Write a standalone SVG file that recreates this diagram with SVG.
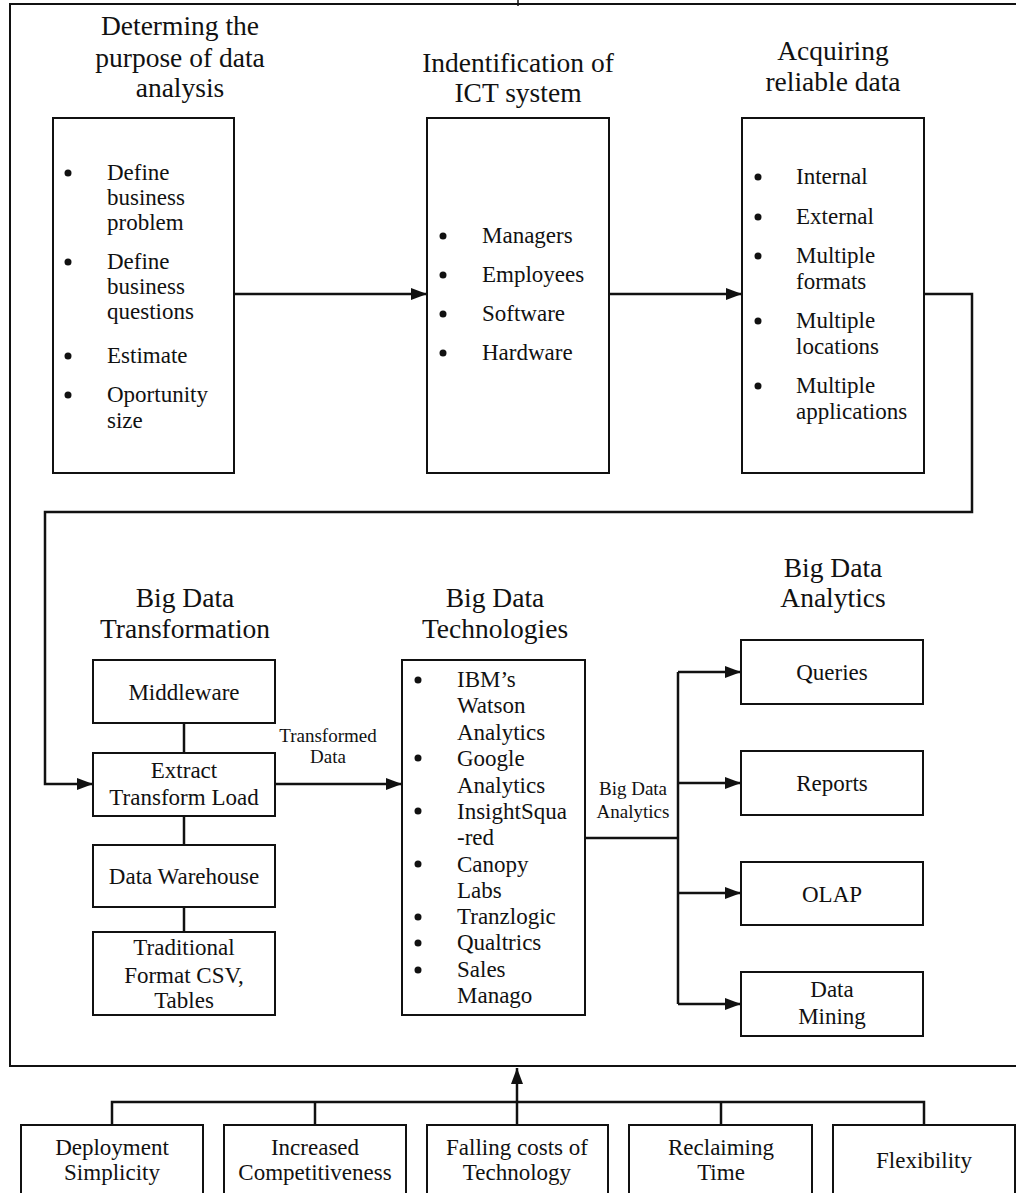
<svg xmlns="http://www.w3.org/2000/svg" width="1016" height="1193" viewBox="0 0 1016 1193">
  <style>
    text { font-family: "Liberation Serif", "Times New Roman", serif; fill: #111; }
    .title { font-size: 27.5px; text-anchor: middle; }
    .item { font-family: "Liberation Serif", "Times New Roman", serif; font-size: 23px; }
    .mid { text-anchor: middle; }
    .lbl { font-size: 19px; text-anchor: middle; }
    .box { fill: #fff; stroke: #111; stroke-width: 2; }
    .wire { fill: none; stroke: #111; stroke-width: 2.5; }
    .dot { fill: #111; }
  </style>
  <defs>
    <marker id="arrow" viewBox="0 0 16 12" refX="16" refY="6" markerWidth="16" markerHeight="12" markerUnits="userSpaceOnUse" orient="auto">
      <path d="M0,0 L16,6 L0,12 Z" fill="#111"/>
    </marker>
  </defs>

  <!-- enclosing frame (open on the right) -->
  <path d="M1016,4 H10 V1066 H1016" fill="none" stroke="#111" stroke-width="2"/>
  <line x1="518" y1="0" x2="518" y2="6" stroke="#111" stroke-width="1.5"/>

  <!-- connectors -->
  <g id="connectors" class="wire">
    <path d="M234,294 H427" marker-end="url(#arrow)"/>
    <path d="M609,294 H742" marker-end="url(#arrow)"/>
    <path d="M924,294 H972 V512 H45 V784 H93" marker-end="url(#arrow)"/>
    <path d="M184,723 V753"/>
    <path d="M184,816 V845"/>
    <path d="M184,907 V932"/>
    <path d="M275,784 H402" marker-end="url(#arrow)"/>
    <path d="M585,838 H678"/>
    <path d="M678,672 V1004"/>
    <path d="M678,672 H741" marker-end="url(#arrow)"/>
    <path d="M678,783 H741" marker-end="url(#arrow)"/>
    <path d="M678,893 H741" marker-end="url(#arrow)"/>
    <path d="M678,1004 H741" marker-end="url(#arrow)"/>
    <path d="M112,1125 V1102 H924 V1125"/>
    <path d="M315,1102 V1125"/>
    <path d="M721,1102 V1125"/>
    <path d="M517,1125 V1068" marker-end="url(#arrow)"/>
    <text x="328" y="742" class="lbl" stroke="none">Transformed</text>
    <text x="328" y="763" class="lbl" stroke="none">Data</text>
    <text x="633" y="795" class="lbl" stroke="none">Big Data</text>
    <text x="633" y="818" class="lbl" stroke="none">Analytics</text>
  </g>

  <!-- stage 1 -->
  <g id="purpose">
    <text x="180" y="35" class="title">Determing the</text>
    <text x="180" y="67" class="title">purpose of data</text>
    <text x="180" y="97" class="title">analysis</text>
    <rect x="53" y="118" width="181" height="355" class="box"/>
    <circle cx="68" cy="173" r="3.5" class="dot"/>
    <text x="107" y="180" class="item">Define</text>
    <text x="107" y="205" class="item">business</text>
    <text x="107" y="230" class="item">problem</text>
    <circle cx="68" cy="262" r="3.5" class="dot"/>
    <text x="107" y="269" class="item">Define</text>
    <text x="107" y="294" class="item">business</text>
    <text x="107" y="319" class="item">questions</text>
    <circle cx="68" cy="356" r="3.5" class="dot"/>
    <text x="107" y="363" class="item">Estimate</text>
    <circle cx="68" cy="395" r="3.5" class="dot"/>
    <text x="107" y="402" class="item">Oportunity</text>
    <text x="107" y="428" class="item">size</text>
  </g>

  <!-- stage 2 -->
  <g id="ict">
    <text x="518" y="72" class="title">Indentification of</text>
    <text x="518" y="102" class="title">ICT system</text>
    <rect x="427" y="118" width="182" height="355" class="box"/>
    <circle cx="443" cy="236" r="3.5" class="dot"/>
    <text x="482" y="243" class="item">Managers</text>
    <circle cx="443" cy="275" r="3.5" class="dot"/>
    <text x="482" y="282" class="item">Employees</text>
    <circle cx="443" cy="314" r="3.5" class="dot"/>
    <text x="482" y="321" class="item">Software</text>
    <circle cx="443" cy="353" r="3.5" class="dot"/>
    <text x="482" y="360" class="item">Hardware</text>
  </g>

  <!-- stage 3 -->
  <g id="acquiring">
    <text x="833" y="60" class="title">Acquiring</text>
    <text x="833" y="91" class="title">reliable data</text>
    <rect x="742" y="118" width="182" height="355" class="box"/>
    <circle cx="758" cy="177" r="3.5" class="dot"/>
    <text x="796" y="184" class="item">Internal</text>
    <circle cx="758" cy="217" r="3.5" class="dot"/>
    <text x="796" y="224" class="item">External</text>
    <circle cx="758" cy="256" r="3.5" class="dot"/>
    <text x="796" y="263" class="item">Multiple</text>
    <text x="796" y="289" class="item">formats</text>
    <circle cx="758" cy="321" r="3.5" class="dot"/>
    <text x="796" y="328" class="item">Multiple</text>
    <text x="796" y="354" class="item">locations</text>
    <circle cx="758" cy="386" r="3.5" class="dot"/>
    <text x="796" y="393" class="item">Multiple</text>
    <text x="796" y="419" class="item">applications</text>
  </g>

  <!-- transformation column -->
  <g id="transformation-title">
    <text x="185" y="607" class="title">Big Data</text>
    <text x="185" y="638" class="title">Transformation</text>
  </g>
  <g id="middleware">
    <rect x="93" y="660" width="182" height="63" class="box"/>
    <text x="184" y="700" class="item mid">Middleware</text>
  </g>
  <g id="etl">
    <rect x="93" y="753" width="182" height="63" class="box"/>
    <text x="184" y="778" class="item mid">Extract</text>
    <text x="184" y="805" class="item mid">Transform Load</text>
  </g>
  <g id="warehouse">
    <rect x="93" y="845" width="182" height="62" class="box"/>
    <text x="184" y="884" class="item mid">Data Warehouse</text>
  </g>
  <g id="traditional">
    <rect x="93" y="932" width="182" height="83" class="box"/>
    <text x="184" y="955" class="item mid">Traditional</text>
    <text x="184" y="983" class="item mid">Format CSV,</text>
    <text x="184" y="1008" class="item mid">Tables</text>
  </g>

  <!-- technologies -->
  <g id="technologies">
    <text x="495" y="607" class="title">Big Data</text>
    <text x="495" y="638" class="title">Technologies</text>
    <rect x="402" y="660" width="183" height="355" class="box"/>
    <circle cx="418" cy="680" r="3.5" class="dot"/>
    <text x="457" y="687" class="item">IBM’s</text>
    <text x="457" y="713" class="item">Watson</text>
    <text x="457" y="740" class="item">Analytics</text>
    <circle cx="418" cy="758" r="3.5" class="dot"/>
    <text x="457" y="766" class="item">Google</text>
    <text x="457" y="793" class="item">Analytics</text>
    <circle cx="418" cy="811" r="3.5" class="dot"/>
    <text x="457" y="819" class="item">InsightSqua</text>
    <text x="457" y="845" class="item">-red</text>
    <circle cx="418" cy="864" r="3.5" class="dot"/>
    <text x="457" y="872" class="item">Canopy</text>
    <text x="457" y="898" class="item">Labs</text>
    <circle cx="418" cy="917" r="3.5" class="dot"/>
    <text x="457" y="924" class="item">Tranzlogic</text>
    <circle cx="418" cy="943" r="3.5" class="dot"/>
    <text x="457" y="950" class="item">Qualtrics</text>
    <circle cx="418" cy="970" r="3.5" class="dot"/>
    <text x="457" y="977" class="item">Sales</text>
    <text x="457" y="1003" class="item">Manago</text>
  </g>

  <!-- analytics outputs -->
  <g id="analytics-title">
    <text x="833" y="577" class="title">Big Data</text>
    <text x="833" y="607" class="title">Analytics</text>
  </g>
  <g id="queries">
    <rect x="741" y="640" width="182" height="64" class="box"/>
    <text x="832" y="680" class="item mid">Queries</text>
  </g>
  <g id="reports">
    <rect x="741" y="751" width="182" height="64" class="box"/>
    <text x="832" y="791" class="item mid">Reports</text>
  </g>
  <g id="olap">
    <rect x="741" y="862" width="182" height="63" class="box"/>
    <text x="832" y="902" class="item mid">OLAP</text>
  </g>
  <g id="mining">
    <rect x="741" y="972" width="182" height="64" class="box"/>
    <text x="832" y="997" class="item mid">Data</text>
    <text x="832" y="1024" class="item mid">Mining</text>
  </g>

  <!-- driving factors -->
  <g id="deployment">
    <rect x="21" y="1125" width="182" height="70" class="box"/>
    <text x="112" y="1155" class="item mid">Deployment</text>
    <text x="112" y="1180" class="item mid">Simplicity</text>
  </g>
  <g id="competitiveness">
    <rect x="224" y="1125" width="182" height="70" class="box"/>
    <text x="315" y="1155" class="item mid">Increased</text>
    <text x="315" y="1180" class="item mid">Competitiveness</text>
  </g>
  <g id="costs">
    <rect x="427" y="1125" width="181" height="70" class="box"/>
    <text x="517" y="1155" class="item mid">Falling costs of</text>
    <text x="517" y="1180" class="item mid">Technology</text>
  </g>
  <g id="reclaiming">
    <rect x="629" y="1125" width="183" height="70" class="box"/>
    <text x="721" y="1155" class="item mid">Reclaiming</text>
    <text x="721" y="1180" class="item mid">Time</text>
  </g>
  <g id="flexibility">
    <rect x="833" y="1125" width="182" height="70" class="box"/>
    <text x="924" y="1168" class="item mid">Flexibility</text>
  </g>
</svg>
